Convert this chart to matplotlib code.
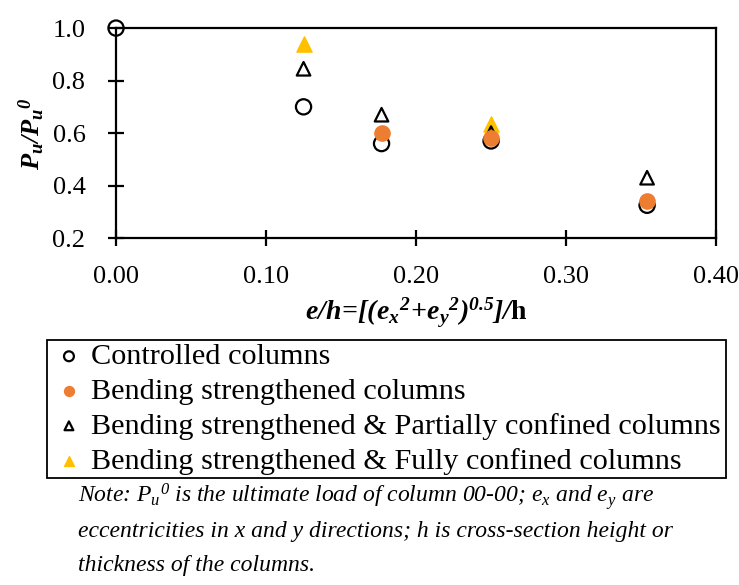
import matplotlib
matplotlib.use("Agg")
import matplotlib.pyplot as plt

plt.rcParams['font.family'] = 'Liberation Serif'
plt.rcParams['mathtext.fontset'] = 'custom'
plt.rcParams['mathtext.rm'] = 'Liberation Serif:italic'
plt.rcParams['mathtext.it'] = 'Liberation Serif:italic'
plt.rcParams['mathtext.bf'] = 'Liberation Serif:bold:italic'
plt.rcParams['mathtext.sf'] = 'Liberation Serif:bold'

# eccentricity ratio e/h and normalised capacity Pu/Pu0 per group
ctrl_x = [0.0, 0.125, 0.177, 0.25, 0.354]
ctrl_y = [1.0, 0.70, 0.56, 0.57, 0.325]
bend_x = [0.177, 0.25, 0.354]
bend_y = [0.60, 0.58, 0.34]
part_x = [0.125, 0.177, 0.25, 0.354]
part_y = [0.845, 0.67, 0.60, 0.43]
full_x = [0.125, 0.25]
full_y = [0.94, 0.635]

labels = ['Controlled columns',
          'Bending strengthened columns',
          'Bending strengthened & Partially confined columns',
          'Bending strengthened & Fully confined columns']

fig = plt.figure(figsize=(7.39, 5.85), dpi=100)
ax = fig.add_axes([0.157, 0.593, 0.812, 0.359])

ax.scatter(ctrl_x, ctrl_y, s=120, facecolors='none', edgecolors='black', linewidths=1.6, label=labels[0], zorder=3)
ax.scatter(bend_x, bend_y, s=120, color='#ED7D31', label=labels[1], zorder=4)
ax.scatter(part_x, part_y, s=95, marker='^', facecolors='none', edgecolors='black', linewidths=1.6, label=labels[2], zorder=3)
ax.scatter(full_x, full_y, s=120, marker='^', color='#FFC000', label=labels[3], zorder=2)

ax.set_xlim(0, 0.40)
ax.set_ylim(0.2, 1.0)
ax.set_xticks([0.0, 0.1, 0.2, 0.3, 0.4])
ax.set_xticklabels(['0.00', '0.10', '0.20', '0.30', '0.40'])
ax.set_yticks([0.2, 0.4, 0.6, 0.8, 1.0])
ax.set_yticklabels(['0.2', '0.4', '0.6', '0.8', '1.0'])
ax.tick_params(axis='both', direction='inout', length=12, width=1.6, labelsize=19)
ax.tick_params(axis='x', pad=14)
ax.tick_params(axis='y', pad=16)
for sp in ax.spines.values():
    sp.set_linewidth(1.6)
for c in ax.collections:
    c.set_clip_on(False)

ax.set_ylabel(r'$\mathbf{P_u/P_u{}^{0}}$', fontsize=19, labelpad=4)
ax.set_xlabel(r'$\mathbf{e/h\!=\![(e_x{}^{2}\!+\!e_y{}^{2})^{0.5}]/}\mathsf{h}$', fontsize=20, labelpad=6)

# legend box spans x 47..726 px, top edge at 340 px
leg_top = 1 - 340 / 585
leg = fig.legend(loc='upper left', bbox_to_anchor=(47 / 739, leg_top - 0.3, 679 / 739, 0.3),
                 mode='expand', fontsize=21.8,
                 frameon=True, fancybox=False, edgecolor='black', framealpha=1,
                 handlelength=1.25, handletextpad=0.1, borderpad=0.1,
                 labelspacing=0.25, markerscale=0.65, borderaxespad=0)
leg.get_frame().set_linewidth(1.3)

note_lines = ['Note: $P_u{}^{0}$ is the ultimate load of column 00-00; e$_x$ and e$_y$ are',
              'eccentricities in x and y directions; h is cross-section height or',
              'thickness of the columns.']
note_y = [497, 531, 565]
for line, yy in zip(note_lines, note_y):
    fig.text(78 / 739, 1 - yy / 585, line, fontsize=17, style='italic', va='center', ha='left')

fig.savefig('out.png', dpi=100)
